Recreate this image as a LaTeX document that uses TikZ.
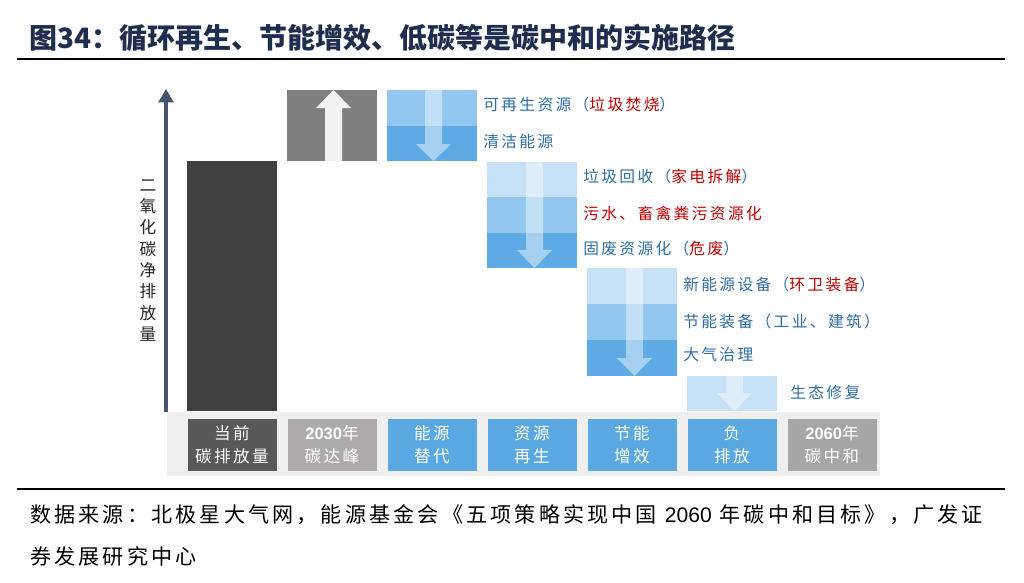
\documentclass[tikz,border=0pt]{standalone}
\usepackage{fontspec}
\setmainfont{Noto Sans CJK SC}
\newfontfamily\cjkwide[LetterSpace=15]{Noto Sans CJK SC}
\newfontfamily\digitfont{Liberation Sans}
\usetikzlibrary{arrows.meta,shadows}
\definecolor{ink}{HTML}{1F2D4E}
\definecolor{axisblue}{HTML}{44546A}
\definecolor{labelblue}{HTML}{2E6DA8}
\definecolor{labelred}{HTML}{C00000}
\definecolor{bandlight}{HTML}{C6E0F5}
\definecolor{bandmid}{HTML}{93C6EE}
\definecolor{banddark}{HTML}{5DAAE4}
\definecolor{stageblue}{HTML}{5AA8E2}
\definecolor{stripgray}{HTML}{EFEFEF}
\definecolor{bardark}{HTML}{404040}
\definecolor{peakgray}{HTML}{7F7F7F}
\definecolor{nowgray}{HTML}{595959}
\definecolor{warmgray}{HTML}{AEAAAA}
\definecolor{neutralgray}{HTML}{A6A6A6}
\tikzset{
  stagebox/.style={minimum width=66.75pt, minimum height=39pt, inner sep=0pt,
    align=center, text=white, font=\cjkwide\fontsize{12.4}{17.25}\selectfont,
    drop shadow={shadow xshift=0.7pt, shadow yshift=-0.7pt, opacity=0.3}},
  flowlabel/.style={anchor=west, inner sep=0pt, text=labelblue,
    font=\cjkwide\fontsize{11.8}{14}\selectfont},
  flowarrowfill/.style={fill=white, fill opacity=0.45},
  peakarrow/.style={fill=black!5},
  axisarrow/.style={-{Triangle[width=11pt,length=10pt]}, line width=2.4pt, draw=axisblue},
  rule/.style={line width=1.6pt, draw=black}
}
% block arrow: centre x, start y, head y, tip y
\newcommand{\blockarrow}[5][flowarrowfill]{%
  \fill[#1] ({#2-8.5},#3) -- ({#2+8.5},#3) -- ({#2+8.5},#4) -- ({#2+17.5},#4)
    -- (#2,#5) -- ({#2-17.5},#4) -- ({#2-8.5},#4) -- cycle;}

\begin{document}
\begin{tikzpicture}[x=0.75pt,y=-0.75pt]
  \useasboundingbox[fill=white] (0,0) rectangle (1024,582);

  % Title
  \node[anchor=west, inner sep=0pt, text=ink, font=\bfseries\fontsize{21}{24}\selectfont]
    (title) at (29,38) {图34：循环再生、节能增效、低碳等是碳中和的实施路径};
  \draw[rule] (17,59) -- (1005,59);

  % Axis
  \coordinate (axisbase) at (166,412);
  \coordinate (axistop) at (166,89);
  \draw[axisarrow] (axisbase) -- (axistop);
  \node[inner sep=0pt, align=center, text=black!85,
    font=\fontsize{12.5}{16}\selectfont] (axislabel) at (148,260.5)
    {二\\氧\\化\\碳\\净\\排\\放\\量};

  % Stage strip
  \fill[stripgray] (167,412) rectangle (880,476);
  \node[stagebox, fill=nowgray] (now) at (232,444.5) {当前\\碳排放量};
  \node[stagebox, fill=warmgray] (peak) at (332,444.5)
    {{\digitfont\bfseries 2030}年\\碳达峰};
  \node[stagebox, fill=stageblue] (energy) at (432,444.5) {能源\\替代};
  \node[stagebox, fill=stageblue] (resource) at (532,444.5) {资源\\再生};
  \node[stagebox, fill=stageblue] (saving) at (632,444.5) {节能\\增效};
  \node[stagebox, fill=stageblue] (negative) at (732,444.5) {负\\排放};
  \node[stagebox, fill=neutralgray] (neutral) at (832,444.5)
    {{\digitfont\bfseries 2060}年\\碳中和};

  % Current emissions and peak
  \fill[bardark] (187,161) rectangle (277,411);
  \fill[peakgray] (287,90) rectangle (377,161);
  \blockarrow[peakarrow]{333.5}{161}{108}{90}

  % Energy substitution
  \fill[bandmid] (387,90) rectangle (477,126);
  \fill[banddark] (387,126) rectangle (477,161);
  \blockarrow{433.5}{90}{144}{161}
  \node[flowlabel] (renew) at (483,105) {可再生资源（\textcolor{labelred}{垃圾焚烧}）};
  \node[flowlabel] (clean) at (483,142) {清洁能源};

  % Resource recycling
  \fill[bandlight] (487,162) rectangle (577,197);
  \fill[bandmid] (487,197) rectangle (577,233);
  \fill[banddark] (487,233) rectangle (577,268);
  \blockarrow{534.5}{162}{250}{268}
  \node[flowlabel] (waste) at (583,177) {垃圾回收（\textcolor{labelred}{家电拆解}）};
  \node[flowlabel, text=labelred] (sewage) at (583,213) {污水、畜禽粪污资源化};
  \node[flowlabel] (solid) at (583,249) {固废资源化（\textcolor{labelred}{危废}）};

  % Energy saving
  \fill[bandlight] (587,268) rectangle (677,304);
  \fill[bandmid] (587,304) rectangle (677,340);
  \fill[banddark] (587,340) rectangle (677,376);
  \blockarrow{634.5}{268}{358}{376}
  \node[flowlabel] (newenergy) at (683,285) {新能源设备（\textcolor{labelred}{环卫装备}）};
  \node[flowlabel] (equip) at (683,322) {节能装备（工业、建筑）};
  \node[flowlabel] (air) at (683,355) {大气治理};

  % Negative emissions
  \fill[bandlight] (687,376) rectangle (777,411);
  \blockarrow{734.5}{376}{393}{411}
  \node[flowlabel] (eco) at (790,392) {生态修复};

  % Source
  \draw[rule] (17,489) -- (1005,489);
  \node[anchor=west, inner sep=0pt, font=\cjkwide\fontsize{15.8}{20}\selectfont]
    (src1) at (30,515) {数据来源：北极星大气网，能源基金会《五项策略实现中国 {\digitfont 2060} 年碳中和目标》，广发证};
  \node[anchor=west, inner sep=0pt, font=\cjkwide\fontsize{15.8}{20}\selectfont]
    (src2) at (30,556) {券发展研究中心};
\end{tikzpicture}
\end{document}
